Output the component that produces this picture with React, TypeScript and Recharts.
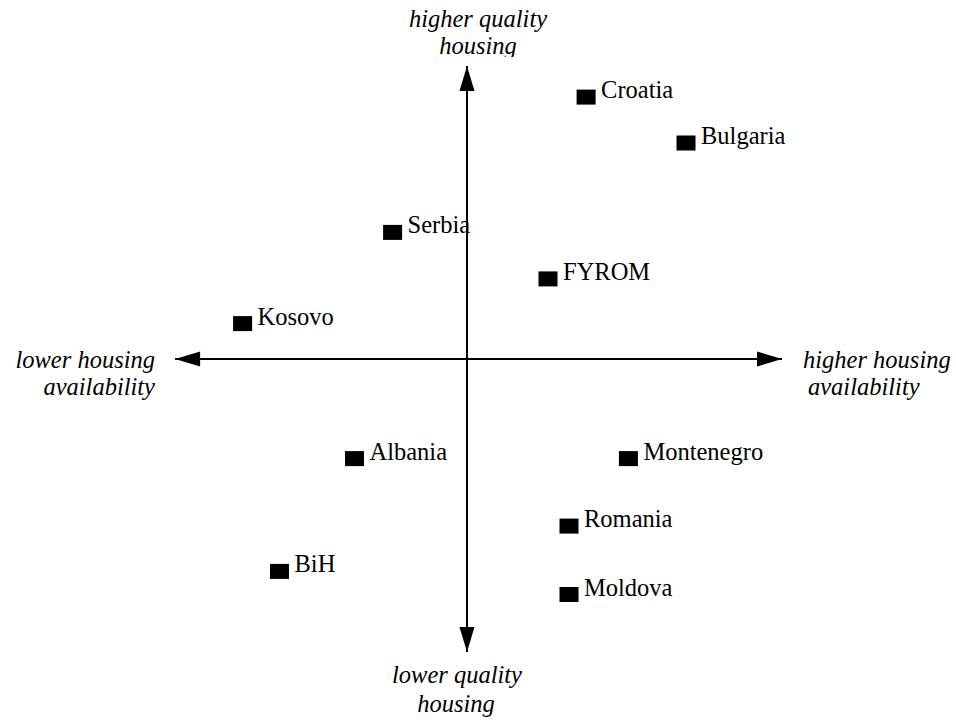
import React from 'react';
import { ScatterChart, Scatter, XAxis, YAxis, ReferenceLine } from 'recharts';

// country positions on the two index scores (centre = 0)
const countries = ['Croatia', 'Bulgaria', 'Serbia', 'FYROM', 'Kosovo', 'Albania', 'Montenegro', 'Romania', 'BiH', 'Moldova'];
const availability = [3.97, 7.3, -2.48, 2.7, -7.48, -3.75, 5.38, 3.4, -6.25, 3.4];
const quality = [8.73, 7.2, 4.22, 2.67, 1.18, -3.32, -3.32, -5.57, -7.08, -7.85];

// arrow tips of the two axes
const arrowTipsX = [-9.73, 10.5, 0, 0];
const arrowTipsY = [0, 0, 9.77, -9.77];
const arrowDirs = ['left', 'right', 'up', 'down'];

const points = countries.map((name, i) => ({ name, x: availability[i], y: quality[i] }));
const arrows = arrowDirs.map((dir, i) => ({ dir, x: arrowTipsX[i], y: arrowTipsY[i] }));

const FONT = "'Liberation Serif', Tinos, 'Noto Serif', FreeSerif, 'Nimbus Roman', 'DejaVu Serif', 'Times New Roman', Times, serif";

const CountryMark = (props: any) => {
  const { cx, cy, payload } = props;
  return (
    <g>
      <rect x={cx - 9.5} y={cy - 7.5} width={19} height={15} fill="#000" />
      <text x={cx + 15} y={cy + 1} style={{ fontFamily: FONT, fontSize: 24.5 }} fill="#000">
        {payload.name}
      </text>
    </g>
  );
};

const ArrowHead = (props: any) => {
  const { cx, cy, payload } = props;
  const len = 25;
  const hw = 7.5;
  let pts = '';
  if (payload.dir === 'left') pts = `${cx},${cy} ${cx + len},${cy - hw} ${cx + len},${cy + hw}`;
  if (payload.dir === 'right') pts = `${cx},${cy} ${cx - len},${cy - hw} ${cx - len},${cy + hw}`;
  if (payload.dir === 'up') pts = `${cx},${cy} ${cx - hw},${cy + len} ${cx + hw},${cy + len}`;
  if (payload.dir === 'down') pts = `${cx},${cy} ${cx - hw},${cy - len} ${cx + hw},${cy - len}`;
  return <polygon points={pts} fill="#000" />;
};

export default function App() {
  const title = { style: { fontFamily: FONT, fontSize: 24.5, fontStyle: 'italic' as const }, fill: '#000' };
  return (
    <div style={{ position: 'absolute', left: 0, top: 0, width: 956, height: 720, background: '#fff', fontFamily: FONT }}>
      <ScatterChart width={956} height={720} margin={{ top: 59, right: 159, bottom: 61, left: 167 }}>
        <XAxis type="number" dataKey="x" domain={[-10, 11]} hide />
        <YAxis type="number" dataKey="y" domain={[-10, 10]} hide />
        <ReferenceLine segment={[{ x: arrowTipsX[0], y: 0 }, { x: arrowTipsX[1], y: 0 }]} stroke="#000" strokeWidth={2} />
        <ReferenceLine segment={[{ x: 0, y: arrowTipsY[3] }, { x: 0, y: arrowTipsY[2] }]} stroke="#000" strokeWidth={2} />
        <Scatter data={arrows} shape={<ArrowHead />} isAnimationActive={false} />
        <Scatter data={points} shape={<CountryMark />} isAnimationActive={false} />
      </ScatterChart>
      <svg width={956} height={720} style={{ position: 'absolute', left: 0, top: 0, pointerEvents: 'none' }}>
        <defs>
          <clipPath id="topClip">
            <rect x={0} y={0} width={956} height={57} />
          </clipPath>
        </defs>
        <g clipPath="url(#topClip)">
          <text x={478} y={27} textAnchor="middle" {...title}>higher quality</text>
          <text x={478} y={54} textAnchor="middle" {...title}>housing</text>
        </g>
        <text x={457} y={683} textAnchor="middle" {...title}>lower quality</text>
        <text x={456} y={712} textAnchor="middle" {...title}>housing</text>
        <text x={155} y={368} textAnchor="end" {...title}>lower housing</text>
        <text x={155} y={395} textAnchor="end" {...title}>availability</text>
        <text x={803} y={368} {...title}>higher housing</text>
        <text x={808} y={395} {...title}>availability</text>
      </svg>
    </div>
  );
}
